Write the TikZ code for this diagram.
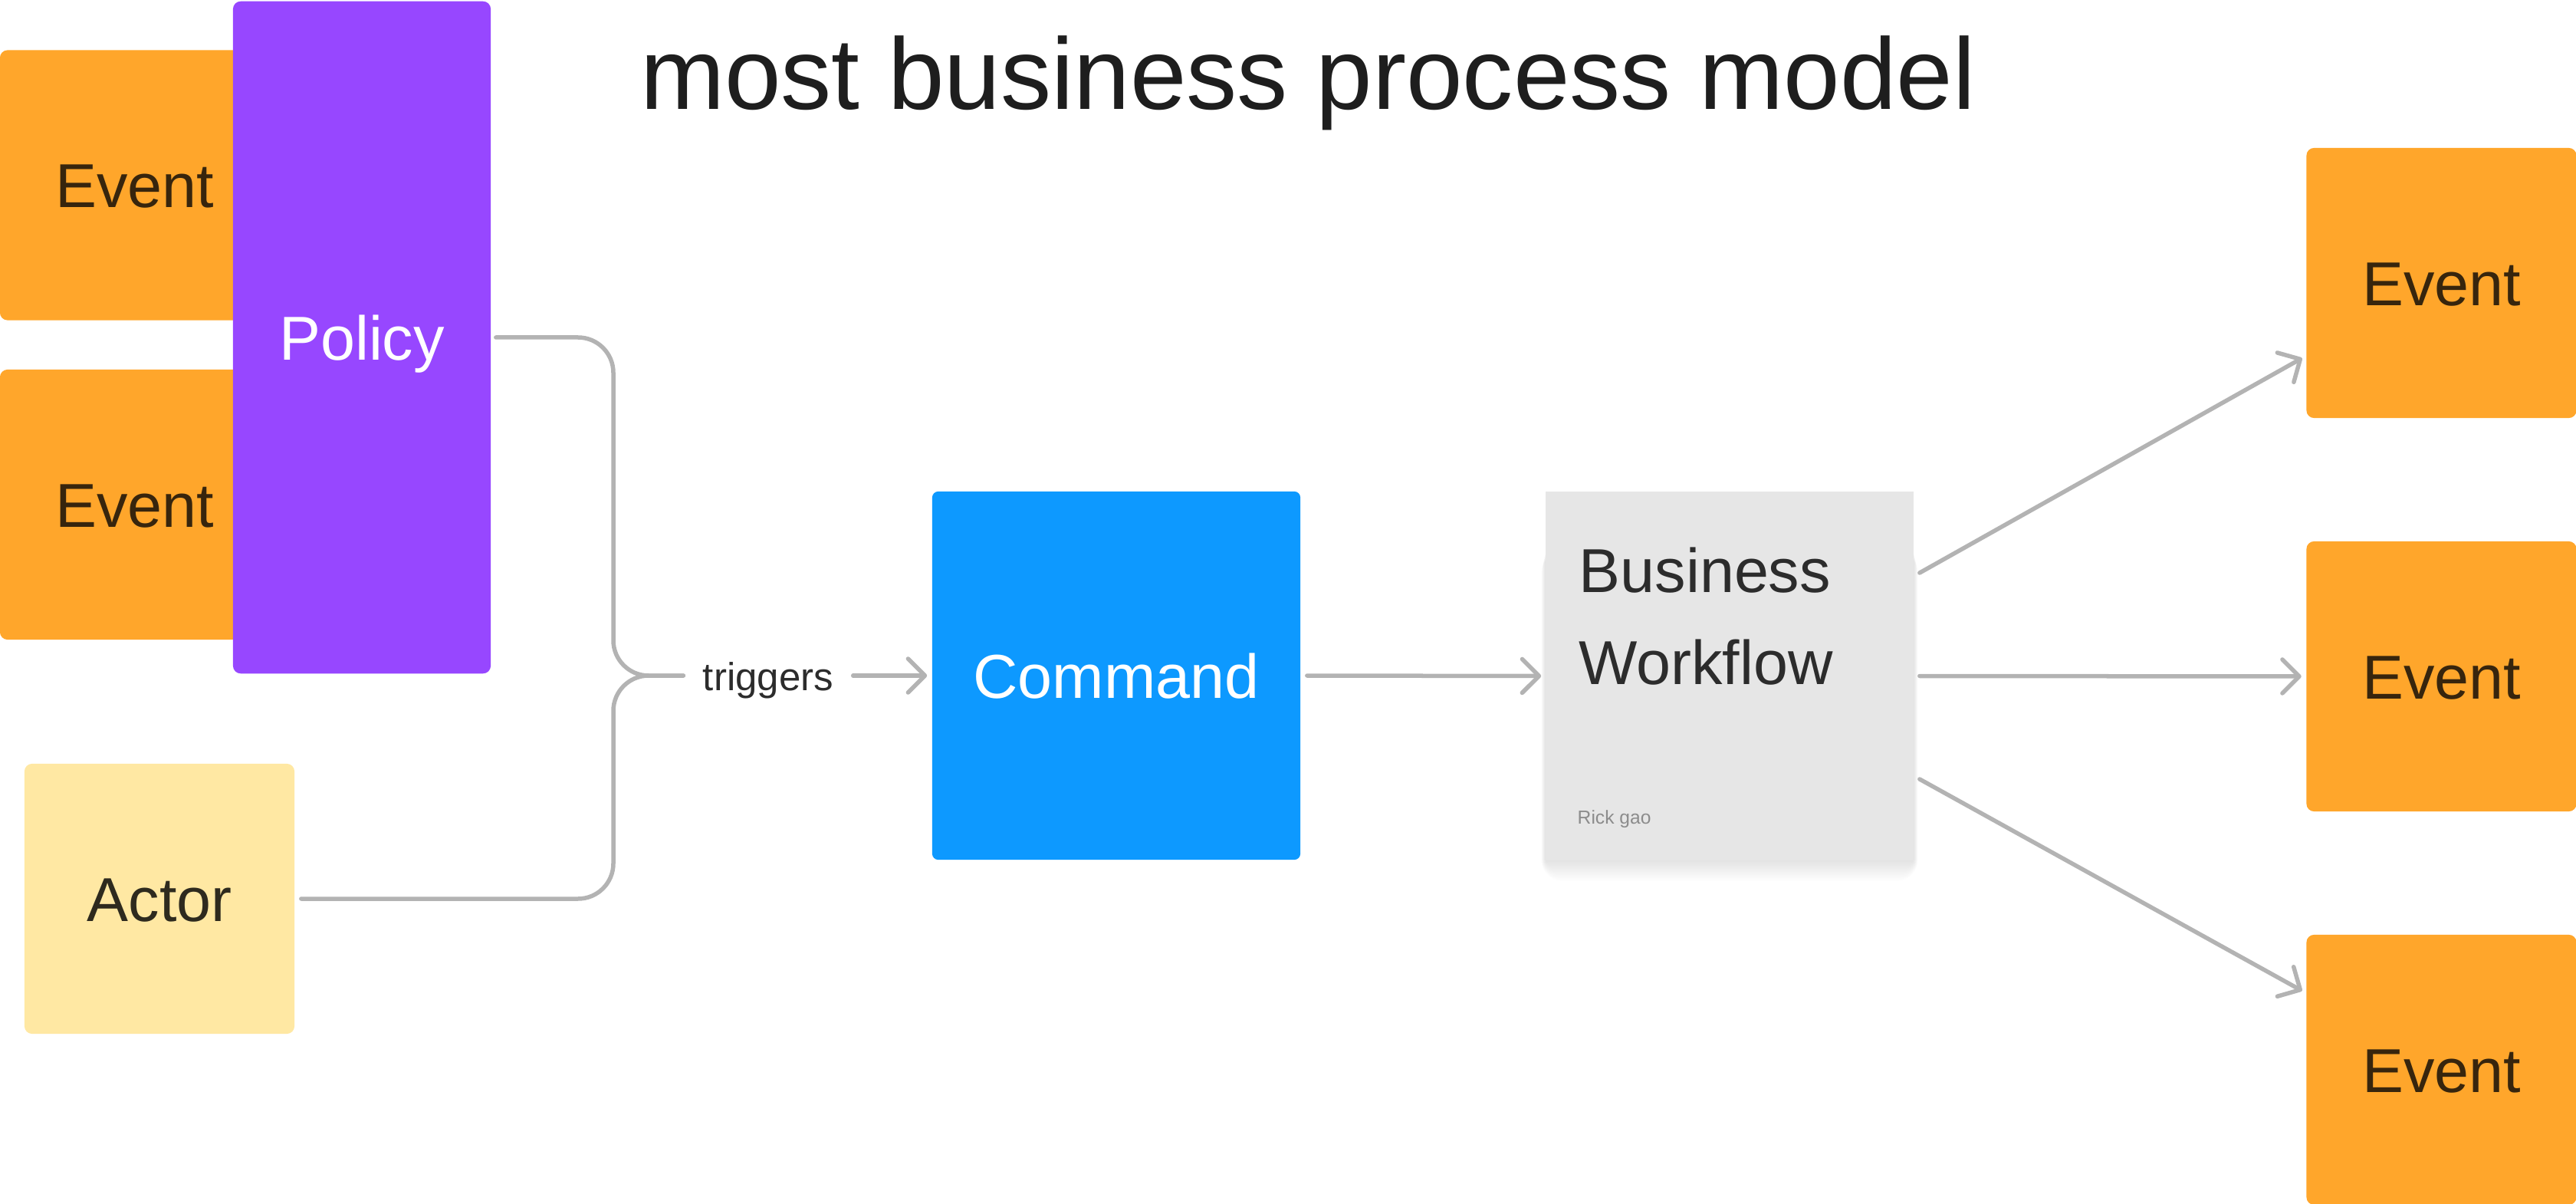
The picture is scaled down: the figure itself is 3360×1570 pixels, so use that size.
\documentclass[tikz,border=0pt]{standalone}
\usepackage{fontspec}
\setmainfont{Liberation Sans}
\usetikzlibrary{arrows.meta,calc}
\definecolor{evorange}{HTML}{FFA62B}
\definecolor{evtext}{HTML}{37250D}
\definecolor{policyc}{HTML}{9747FF}
\definecolor{actorc}{HTML}{FFE8A3}
\definecolor{actortext}{HTML}{2E2A1E}
\definecolor{cmdc}{HTML}{0D99FF}
\definecolor{wfgray}{HTML}{E6E6E6}
\definecolor{wftext}{HTML}{2C2C2C}
\definecolor{rickc}{HTML}{8C8C8C}
\definecolor{linec}{HTML}{B3B3B3}
\definecolor{titlec}{HTML}{1E1E1E}
\tikzset{
  sticky/.style={rectangle, rounded corners=0.1cm, inner sep=0pt,
    minimum width=3.52cm, minimum height=3.52cm,
    text height=16.5pt, text depth=0pt,
    font=\fontsize{23}{28}\selectfont},
  eventbox/.style={sticky, fill=evorange, text=evtext},
  actorbox/.style={sticky, fill=actorc, text=actortext},
  policybox/.style={sticky, fill=policyc, text=white,
    minimum width=3.36cm, minimum height=8.76cm},
  cmdbox/.style={sticky, fill=cmdc, text=white, rounded corners=0.08cm,
    minimum width=4.8cm, minimum height=4.8cm},
  wfbox/.style={rectangle, fill=wfgray, inner sep=0pt,
    minimum width=4.8cm, minimum height=4.8cm},
  conn/.style={draw=linec, line width=0.055cm, line cap=round, line join=round},
  arr/.style={conn, -{Straight Barb[length=0.22cm, width=0.44cm, round]}},
  bracepath/.style={conn, rounded corners=0.46cm},
  trigtext/.style={font=\fontsize{14.5}{17}\selectfont, text=wftext,
    inner xsep=0.25cm, inner ysep=0pt, anchor=base},
}
\begin{document}
\begin{tikzpicture}[x=0.01cm, y=-0.01cm]
\useasboundingbox[fill=white] (0,0) rectangle (3360,1570);

% title
\node[anchor=base, text=titlec, font=\fontsize{37.6}{44}\selectfont, inner sep=0pt]
  (title) at (1706,143) {most business process model};

% left events and policy
\node[eventbox] (ev1) at (176,241.5) {Event};
\node[eventbox] (ev2) at (176,658) {Event};
\node[policybox] (policy) at (472,440) {Policy};

% actor
\node[actorbox] (actor) at (208,1172) {Actor};

% command
\node[cmdbox] (cmd) at (1456,881) {Command};

% workflow shadow
\foreach \s in {1,...,14} {
  \fill[black, opacity=0.007, rounded corners=\s*0.02cm]
    (2016-\s*0.4,720) rectangle (2496+\s*0.4,1121+2*\s);
}
\node[wfbox] (wf) at (2256,881.5) {};
\node[anchor=base west, align=left, text=wftext, inner sep=0pt,
  font=\fontsize{23}{34.1}\selectfont] (wft) at (2059,892) {Business\\Workflow};
\node[anchor=base west, text=rickc, inner sep=0pt,
  font=\fontsize{7}{8}\selectfont] (rick) at (2057,1074) {Rick gao};

% right events
\node[eventbox] (er1) at (3184.5,369) {Event};
\node[eventbox] (er2) at (3184.5,882) {Event};
\node[eventbox] (er3) at (3184.5,1395) {Event};

% triggers label
\node[trigtext] (trig) at (1002,900) {triggers};

% brace connectors
\draw[bracepath] ($(policy.east)+(6,0)$) -- (800,440) -- (800,881) -- (trig.west |- cmd.west);
\draw[bracepath] ($(actor.east)+(8,0)$) -- (800,1172) -- (800,881) -- (trig.west |- cmd.west);

% arrows
\draw[arr] (trig.east |- cmd.west) -- ($(cmd.west)+(-6,0)$);
\draw[arr] ($(cmd.east)+(8,0)$) -- ($(wf.west)+(-5,0)$);
\draw[arr] ($(wf.east)+(7,-134.5)$) -- ($(er1.west)+(-5,98)$);
\draw[arr] ($(wf.east)+(7,0)$) -- ($(er2.west)+(-6,0)$);
\draw[arr] ($(wf.east)+(7,134.5)$) -- ($(er3.west)+(-5,-103)$);
\end{tikzpicture}
\end{document}
